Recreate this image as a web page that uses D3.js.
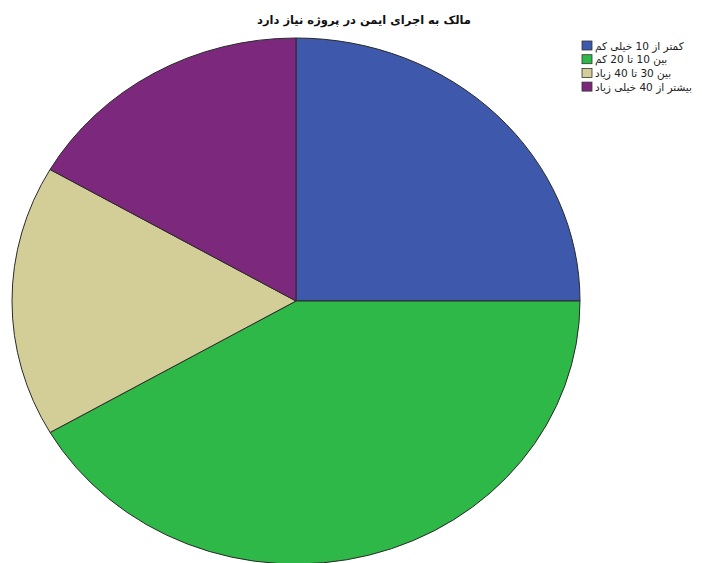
<!DOCTYPE html>
<html>
<head>
<meta charset="utf-8">
<script src="https://cdn.jsdelivr.net/npm/d3@7"></script>
<style>
  html, body { margin: 0; padding: 0; background: #fff; }
  svg { display: block; }
  text { font-family: "DejaVu Sans", "Liberation Sans", sans-serif; }
</style>
</head>
<body>
<div id="chart"></div>
<script>
// Response categories (clockwise from 12 o'clock) and their counts
const categories = [
  "کمتر از 10 خیلی کم",
  "بین 10 تا 20 کم",
  "بین 30 تا 40 زیاد",
  "بیشتر از 40 خیلی زیاد"
];
const counts = [3, 5, 2, 2];
const colors = ["#3E58AC", "#2EB848", "#D3CE97", "#7C287D"];
const title = "مالک به اجرای ایمن در پروژه نیاز دارد";

const W = 702, H = 563;
const cx = 296, cy = 301, rx = 284, ry = 263;

const svg = d3.select("#chart").append("svg")
  .attr("width", W).attr("height", H);

const data = categories.map((c, i) => ({ name: c, value: counts[i], color: colors[i] }));

const pie = d3.pie().sort(null).value(d => d.value).startAngle(0).endAngle(2 * Math.PI);
const arc = d3.arc().innerRadius(0).outerRadius(rx);

// Pie is drawn as a circle and squashed vertically into an ellipse
const g = svg.append("g")
  .attr("transform", `translate(${cx},${cy}) scale(1,${ry / rx})`);

g.selectAll("path")
  .data(pie(data))
  .join("path")
  .attr("d", arc)
  .attr("fill", d => d.data.color)
  .attr("stroke", "#2a2a2a")
  .attr("stroke-width", 1)
  .attr("vector-effect", "non-scaling-stroke");

// Title
svg.append("text")
  .attr("x", 364)
  .attr("y", 24)
  .attr("text-anchor", "middle")
  .attr("direction", "rtl")
  .attr("font-size", 11.5)
  .attr("font-weight", "bold")
  .attr("fill", "#111")
  .text(title);

// Legend
const legend = svg.append("g").attr("transform", "translate(582,41)");
const row = legend.selectAll("g")
  .data(data)
  .join("g")
  .attr("transform", (d, i) => `translate(0,${i * 13.7})`);

row.append("rect")
  .attr("width", 10).attr("height", 9)
  .attr("fill", d => d.color)
  .attr("stroke", "#333").attr("stroke-width", 0.8);

row.append("text")
  .attr("x", 13)
  .attr("y", 8.5)
  .attr("direction", "rtl")
  .attr("text-anchor", "end")
  .attr("font-size", 10.5)
  .attr("fill", "#222")
  .text(d => d.name);
</script>
</body>
</html>
